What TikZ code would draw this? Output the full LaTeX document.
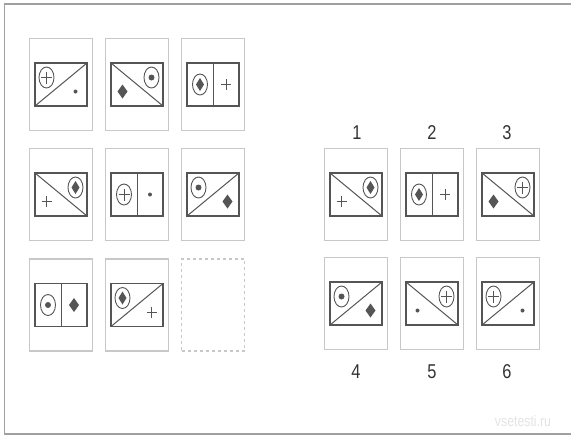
\documentclass[tikz,border=0pt]{standalone}
\usepackage{fontspec}
\newfontfamily\digitfont[FakeStretch=0.82]{Liberation Sans}
\usetikzlibrary{calc}
\definecolor{tileg}{HTML}{C8C8C8}
\definecolor{ink}{HTML}{555555}
\definecolor{frameg}{HTML}{A0A0A0}
\definecolor{wmark}{HTML}{E4E4E4}
\definecolor{numc}{HTML}{333333}
\tikzset{
 tilebox/.style={draw=tileg, line width=1.1pt, minimum width=63pt, minimum height=92pt, inner sep=0pt, outer sep=0pt, anchor=north west},
 emptybox/.style={tilebox, dash pattern=on 3pt off 3pt},
 cellbox/.style={draw=ink, line width=1.2pt, minimum width=52pt, minimum height=43pt, inner sep=0pt, outer sep=0pt},
 cellline/.style={draw=ink, line width=1pt},
 symline/.style={draw=ink, line width=0.9pt},
 symfill/.style={fill=ink},
 numlabel/.style={font=\digitfont\fontsize{20}{20}\selectfont, text=numc, inner sep=0pt},
 framebox/.style={draw=frameg, line width=1.5pt}
}
\newcommand\mkcell[4]{%
 \node[tilebox] (#1) at (#2,#3) {};
 \node[cellbox] (#1r) at (#1.center) {};
 \csname mydiv#4\endcsname{#1r}}
\newcommand\mydivA[1]{\draw[cellline] (#1.south west) -- (#1.north east);}
\newcommand\mydivB[1]{\draw[cellline] (#1.north west) -- (#1.south east);}
\newcommand\mydivV[1]{\draw[cellline] (#1.north) -- (#1.south);}
\newcommand\putsym[4]{%
 \begin{scope}[shift={($(#1.center)+(#2,#3)$)}]\csname mysym#4\endcsname\end{scope}}
\newcommand\mysymE{\draw[symline] (0,0) ellipse [x radius=7.5, y radius=10.5];}
\newcommand\mysymP{\draw[symline] (-5,0) -- (5,0) (0,-5.5) -- (0,5.5);}
\newcommand\mysymCP{\mysymE\draw[symline] (-5.5,0) -- (5.5,0) (0,-6) -- (0,6);}
\newcommand\mysymD{\fill[symfill] (0,-7) -- (5,0) -- (0,7) -- (-5,0) -- cycle;}
\newcommand\mysymCD{\mysymE\fill[symfill] (0,-6.5) -- (4,0) -- (0,6.5) -- (-4,0) -- cycle;}
\newcommand\mysymO{\fill[symfill] (0,0) circle [radius=2];}
\newcommand\mysymCO{\mysymE\fill[symfill] (0,0) circle [radius=3];}
\begin{document}
\begin{tikzpicture}[x=1pt,y=-1pt]
\useasboundingbox (0,0) rectangle (571,437);
\fill[white] (0,0) rectangle (571,437);
\begin{scope}
\clip (0,0) rectangle (571,437);
\coordinate (ftl) at (4.5,4);
\coordinate (fbr) at (580,434);
\draw[framebox] (ftl) rectangle (fbr);
\end{scope}
% matrix row 1
\mkcell{m1}{29.5}{38.5}{A}
\putsym{m1r}{-14.5}{-7}{CP}\putsym{m1r}{14.5}{7}{O}
\mkcell{m2}{105.5}{38.5}{B}
\putsym{m2r}{14.5}{-7}{CO}\putsym{m2r}{-14.5}{7}{D}
\mkcell{m3}{181.5}{38.5}{V}
\putsym{m3r}{-13}{0}{CD}\putsym{m3r}{13}{0}{P}
% matrix row 2
\mkcell{m4}{29.5}{148.5}{B}
\putsym{m4r}{14.5}{-7}{CD}\putsym{m4r}{-14.5}{7}{P}
\mkcell{m5}{105.5}{148.5}{V}
\putsym{m5r}{-13}{0}{CP}\putsym{m5r}{13}{0}{O}
\mkcell{m6}{181.5}{148.5}{A}
\putsym{m6r}{-14.5}{-7}{CO}\putsym{m6r}{14.5}{7}{D}
% matrix row 3
\mkcell{m7}{29.5}{259}{V}
\putsym{m7r}{-13}{0}{CO}\putsym{m7r}{13}{0}{D}
\mkcell{m8}{105.5}{259}{A}
\putsym{m8r}{-14.5}{-7}{CD}\putsym{m8r}{14.5}{7}{P}
\node[emptybox] (m9) at (181.5,259) {};
% answers row 1
\mkcell{a1}{324.5}{148.5}{B}
\putsym{a1r}{14.5}{-7}{CD}\putsym{a1r}{-14.5}{7}{P}
\mkcell{a2}{400.5}{148.5}{V}
\putsym{a2r}{-13}{0}{CD}\putsym{a2r}{13}{0}{P}
\mkcell{a3}{476.5}{148.5}{B}
\putsym{a3r}{14.5}{-7}{CP}\putsym{a3r}{-14.5}{7}{D}
% answers row 2
\mkcell{a4}{324.5}{257.5}{A}
\putsym{a4r}{-14.5}{-7}{CO}\putsym{a4r}{14.5}{7}{D}
\mkcell{a5}{400.5}{257.5}{B}
\putsym{a5r}{14.5}{-7}{CP}\putsym{a5r}{-14.5}{7}{O}
\mkcell{a6}{476.5}{257.5}{A}
\putsym{a6r}{-14.5}{-7}{CP}\putsym{a6r}{14.5}{7}{O}
% labels
\node[numlabel] (l1) at (357,133) {1};
\node[numlabel] (l2) at (432,133) {2};
\node[numlabel] (l3) at (507,133) {3};
\node[numlabel] (l4) at (356,372) {4};
\node[numlabel] (l5) at (432,372) {5};
\node[numlabel] (l6) at (507,372) {6};
% watermark
\node[font=\digitfont\fontsize{15}{15}\selectfont, text=wmark, inner sep=0pt] (wm) at (523,421) {vsetesti.ru};
\end{tikzpicture}
\end{document}
